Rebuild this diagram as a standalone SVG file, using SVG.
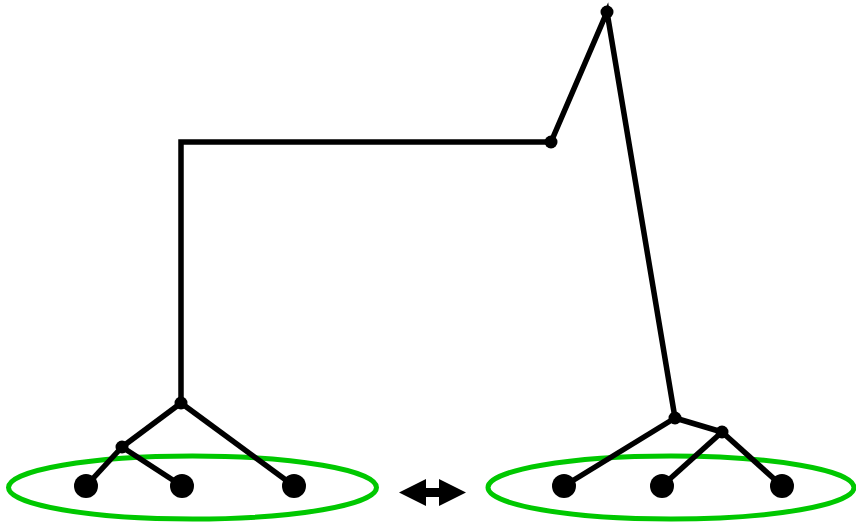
<svg xmlns="http://www.w3.org/2000/svg" width="856" height="526" viewBox="0 0 856 526">
<style>
.e{stroke:#000;stroke-width:5.5;fill:none;stroke-linecap:butt;stroke-linejoin:miter}
.n{fill:#000}
.g{fill:none;stroke:#00c800;stroke-width:5}
</style>
<rect width="856" height="526" fill="#fff"/>
<g id="groups">
<ellipse class="g" cx="192.5" cy="487.5" rx="184" ry="31.5"/>
<ellipse class="g" cx="671" cy="487.5" rx="183" ry="31.5"/>
</g>
<g id="connectors">
<polyline class="e" points="181,403 181,142 551,142 607,12 675,418"/>
<line class="e" x1="181" y1="403" x2="122" y2="447"/>
<line class="e" x1="181" y1="403" x2="294" y2="486"/>
<line class="e" x1="122" y1="447" x2="86" y2="486"/>
<line class="e" x1="122" y1="447" x2="182" y2="486"/>
<line class="e" x1="675" y1="418" x2="564" y2="486"/>
<line class="e" x1="675" y1="418" x2="722" y2="432"/>
<line class="e" x1="722" y1="432" x2="662" y2="486"/>
<line class="e" x1="722" y1="432" x2="782" y2="486"/>
</g>
<g id="n_top"><circle class="n" cx="607" cy="12" r="6.5"/></g>
<g id="n_mid"><circle class="n" cx="551" cy="142" r="6.5"/></g>
<g id="n_lroot"><circle class="n" cx="181" cy="403" r="6.5"/></g>
<g id="n_lint"><circle class="n" cx="122" cy="447" r="6.5"/></g>
<g id="n_l1"><circle class="n" cx="86" cy="486" r="12"/></g>
<g id="n_l2"><circle class="n" cx="182" cy="486" r="12"/></g>
<g id="n_l3"><circle class="n" cx="294" cy="486" r="12"/></g>
<g id="n_rroot"><circle class="n" cx="675" cy="418" r="6.5"/></g>
<g id="n_rint"><circle class="n" cx="722" cy="432" r="6.5"/></g>
<g id="n_r1"><circle class="n" cx="564" cy="486" r="12"/></g>
<g id="n_r2"><circle class="n" cx="662" cy="486" r="12"/></g>
<g id="n_r3"><circle class="n" cx="782" cy="486" r="12"/></g>
<g id="arrow">
<path class="n" d="M399,492.5 L426,479 L426,488 L439,488 L439,479 L466,492.5 L439,506 L439,497 L426,497 L426,506 Z"/>
</g>
</svg>
